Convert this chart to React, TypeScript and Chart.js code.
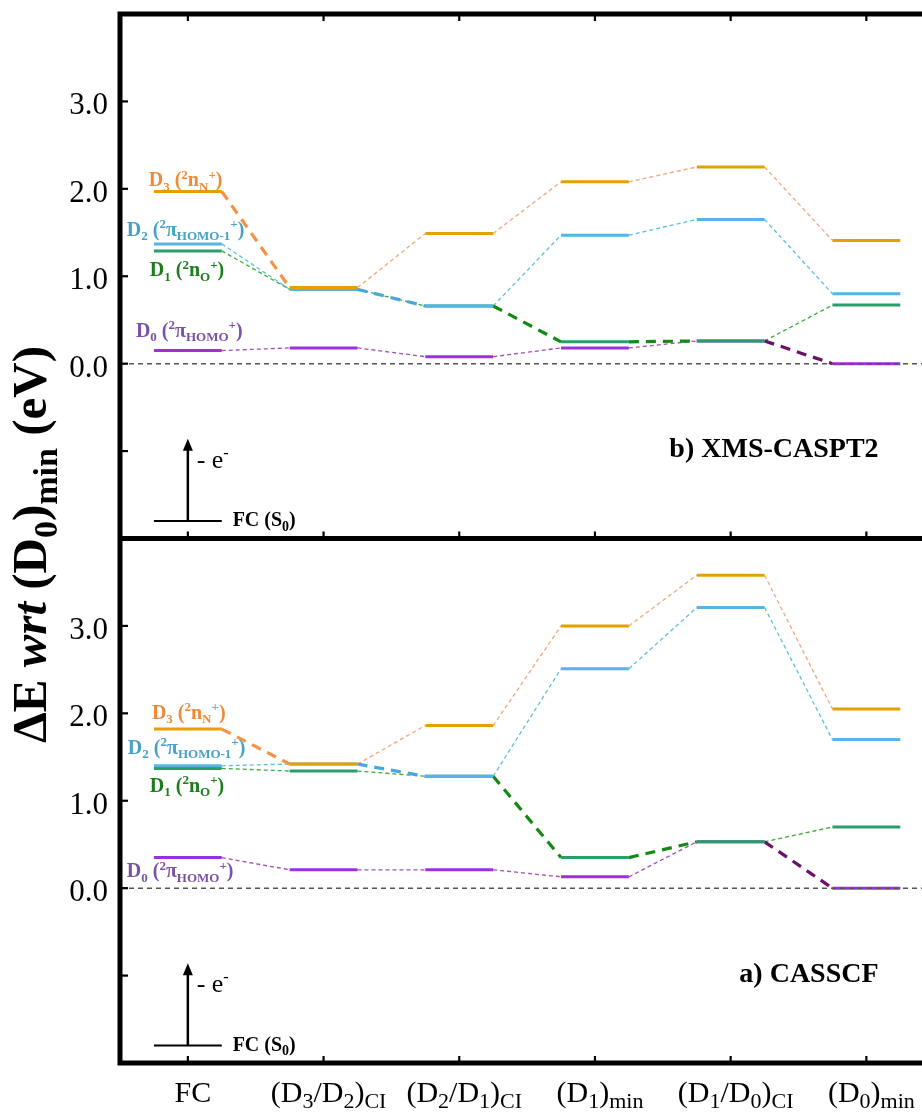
import React, { useEffect, useRef } from 'react';
import { Chart, registerables } from 'chart.js';

Chart.register(...registerables);

// ---------- data ----------
const categories = [
  'FC',
  '(D_{3}/D_{2})_{CI}',
  '(D_{2}/D_{1})_{CI}',
  '(D_{1})_{min}',
  '(D_{1}/D_{0})_{CI}',
  '(D_{0})_{min}',
];
const yTickValues = [-1, 0, 1, 2, 3];
const yTickLabels = ['', '0.0', '1.0', '2.0', '3.0'];

const stateKeys = ['D3', 'D2', 'D1', 'D0'];
const stateLabels = [
  'D_{3} (^{2}n_{N}^{+})',
  'D_{2} (^{2}π_{HOMO-1}^{+})',
  'D_{1} (^{2}n_{O}^{+})',
  'D_{0} (^{2}π_{HOMO}^{+})',
];

// panel b) XMS-CASPT2 (top), eV relative to (D0)min
const xmsD3 = [1.97, 0.87, 1.49, 2.08, 2.25, 1.41];
const xmsD2 = [1.37, 0.85, 0.66, 1.47, 1.65, 0.8];
const xmsD1 = [1.29, 0.85, 0.66, 0.25, 0.26, 0.67];
const xmsD0 = [0.15, 0.18, 0.08, 0.18, 0.26, 0.0];

// panel a) CASSCF (bottom)
const casD3 = [1.82, 1.42, 1.86, 3.0, 3.58, 2.05];
const casD2 = [1.4, 1.42, 1.28, 2.51, 3.21, 1.7];
const casD1 = [1.37, 1.34, 1.28, 0.35, 0.53, 0.7];
const casD0 = [0.35, 0.21, 0.21, 0.13, 0.53, 0.0];

// links (category i -> i+1) that follow the diabatic state (thick dashes)
const thickD3 = [true, false, false, false, false];
const thickD2 = [false, true, false, false, false];
const thickD1 = [false, false, true, true, false];
const thickD0 = [false, false, false, false, true];

const panelTitles = ['b) XMS-CASPT2', 'a) CASSCF'];
const yTitle = 'ΔE ~{wrt} (D_{0})_{min} (eV)';

// ---------- styles ----------
const levelColor = ['#E69F00', '#56B4E9', '#2A9D6A', '#9B30E0'];
const thinColor = ['#F5A47E', '#5BBFDD', '#3AAA3A', '#A04FB4'];
const thickColor = ['#F7914A', '#48A8DA', '#148A14', '#6A106A'];
const labelColor = ['#F08A38', '#46A2C8', '#1C7D1C', '#7A52A6'];

// label anchors (x in category units, y = baseline in eV)
const labelPosTop = [
  [-0.288, 2.03],
  [-0.45, 1.46],
  [-0.28, 1.0],
  [-0.383, 0.31],
];
const labelPosBot = [
  [-0.265, 1.94],
  [-0.442, 1.54],
  [-0.28, 1.1],
  [-0.45, 0.126],
];

type Run = { t: string; m: 'n' | 'sub' | 'sup'; it: boolean };
function parseRich(s: string): Run[] {
  const runs: Run[] = [];
  let i = 0;
  let buf = '';
  const flush = () => {
    if (buf) {
      runs.push({ t: buf, m: 'n', it: false });
      buf = '';
    }
  };
  while (i < s.length) {
    const c = s[i];
    if ((c === '_' || c === '^' || c === '~') && s[i + 1] === '{') {
      flush();
      const end = s.indexOf('}', i + 2);
      const inner = s.slice(i + 2, end);
      runs.push({ t: inner, m: c === '_' ? 'sub' : c === '^' ? 'sup' : 'n', it: c === '~' });
      i = end + 1;
    } else {
      buf += c;
      i++;
    }
  }
  flush();
  return runs;
}

function drawRich(
  ctx: CanvasRenderingContext2D,
  s: string,
  x: number,
  y: number,
  o: { size: number; weight?: string; color: string; align?: string; subScale?: number; subShift?: number; supShift?: number }
) {
  const runs = parseRich(s);
  const w = o.weight || 'normal';
  const sc = o.subScale ?? 0.68;
  const fontFor = (r: Run) =>
    `${r.it ? 'italic ' : ''}${w} ${r.m === 'n' ? o.size : Math.round(o.size * sc)}px "Liberation Serif", "Times New Roman", serif`;
  let total = 0;
  const widths = runs.map((r) => {
    ctx.font = fontFor(r);
    const ww = ctx.measureText(r.t).width;
    total += ww;
    return ww;
  });
  let cx = o.align === 'center' ? x - total / 2 : o.align === 'right' ? x - total : x;
  ctx.fillStyle = o.color;
  ctx.textBaseline = 'alphabetic';
  ctx.textAlign = 'left';
  runs.forEach((r, k) => {
    ctx.font = fontFor(r);
    const dy = r.m === 'sub' ? o.size * (o.subShift ?? 0.22) : r.m === 'sup' ? -o.size * (o.supShift ?? 0.38) : 0;
    ctx.fillText(r.t, cx, y + dy);
    cx += widths[k];
  });
}

function levelPoints(vals: number[]) {
  const pts: any[] = [];
  vals.forEach((v, i) => {
    pts.push({ x: i - 0.25, y: v }, { x: i + 0.25, y: v }, { x: i + 0.5, y: null });
  });
  return pts;
}
function linkPoints(vals: number[], thick: boolean[], want: boolean) {
  const pts: any[] = [];
  for (let i = 0; i < vals.length - 1; i++) {
    if (thick[i] !== want) continue;
    pts.push({ x: i + 0.25, y: vals[i] }, { x: i + 0.75, y: vals[i + 1] }, { x: i + 0.8, y: null });
  }
  return pts;
}

function buildDatasets(series: number[][], thick: boolean[][], axis: string) {
  const ds: any[] = [];
  series.forEach((vals, s) => {
    ds.push({
      label: stateKeys[s] + ' level',
      data: levelPoints(vals),
      yAxisID: axis,
      borderColor: levelColor[s],
      borderWidth: 3,
      borderCapStyle: 'butt',
      pointRadius: 0,
      order: 1 + s,
    });
    ds.push({
      label: stateKeys[s] + ' thick link',
      data: linkPoints(vals, thick[s], true),
      yAxisID: axis,
      borderColor: thickColor[s],
      borderWidth: 3.2,
      borderDash: [10, 7],
      borderCapStyle: 'butt',
      pointRadius: 0,
      order: 10 + s,
    });
    ds.push({
      label: stateKeys[s] + ' thin link',
      data: linkPoints(vals, thick[s], false),
      yAxisID: axis,
      borderColor: thinColor[s],
      borderWidth: 1.3,
      borderDash: [4, 3],
      borderCapStyle: 'butt',
      pointRadius: 0,
      order: 20 + s,
    });
  });
  return ds;
}

const decor = {
  id: 'decor',
  afterDatasetsDraw(chart: any) {
    const ctx: CanvasRenderingContext2D = chart.ctx;
    const xs = chart.scales.x;
    const area = chart.chartArea;
    const panels = [
      { s: chart.scales.yTop, title: panelTitles[0], lab: labelPosTop },
      { s: chart.scales.yBot, title: panelTitles[1], lab: labelPosBot },
    ];
    ctx.save();
    // zero reference lines
    for (const p of panels) {
      const y = p.s.getPixelForValue(0);
      ctx.setLineDash([5, 4]);
      ctx.strokeStyle = '#555';
      ctx.lineWidth = 1.5;
      ctx.beginPath();
      ctx.moveTo(area.left, y);
      ctx.lineTo(area.right, y);
      ctx.stroke();
    }
    ctx.setLineDash([]);

    for (const p of panels) {
      const ys = p.s;
      // state labels
      stateLabels.forEach((t, k) => {
        drawRich(ctx, t, xs.getPixelForValue(p.lab[k][0]), ys.getPixelForValue(p.lab[k][1]), {
          size: 20,
          weight: 'bold',
          color: labelColor[k],
          subScale: 0.66,
        });
      });
      // ionization arrow
      const x0 = xs.getPixelForValue(0);
      const yb = ys.getPixelForValue(-1.8);
      const yt = ys.getPixelForValue(-0.86);
      ctx.strokeStyle = '#000';
      ctx.fillStyle = '#000';
      ctx.lineWidth = 2;
      ctx.beginPath();
      ctx.moveTo(xs.getPixelForValue(-0.25), yb);
      ctx.lineTo(xs.getPixelForValue(0.25), yb);
      ctx.stroke();
      ctx.lineWidth = 2.5;
      ctx.beginPath();
      ctx.moveTo(x0, yb);
      ctx.lineTo(x0, yt + 8);
      ctx.stroke();
      ctx.beginPath();
      ctx.moveTo(x0, yt);
      ctx.lineTo(x0 - 5, yt + 12);
      ctx.lineTo(x0 + 5, yt + 12);
      ctx.closePath();
      ctx.fill();
      drawRich(ctx, '- e^{-}', xs.getPixelForValue(0.065), ys.getPixelForValue(-1.1) + 8, {
        size: 26,
        color: '#000',
        subScale: 0.62,
        supShift: 0.38,
      });
      drawRich(ctx, 'FC (S_{0})', xs.getPixelForValue(0.33), ys.getPixelForValue(-1.78) + 7, {
        size: 20,
        weight: 'bold',
        color: '#000',
      });
      // panel title
      drawRich(ctx, p.title, xs.getPixelForValue(5.09), ys.getPixelForValue(-1.07), {
        size: 28,
        weight: 'bold',
        color: '#000',
        align: 'right',
      });
      // y ticks (inward) and labels
      yTickValues.forEach((v, k) => {
        const y = ys.getPixelForValue(v);
        ctx.lineWidth = 2.2;
        ctx.strokeStyle = '#000';
        ctx.beginPath();
        ctx.moveTo(area.left, y);
        ctx.lineTo(area.left + 8, y);
        ctx.stroke();
        if (yTickLabels[k]) {
          ctx.font = '31px "Liberation Serif", "Times New Roman", serif';
          ctx.fillStyle = '#000';
          ctx.textAlign = 'right';
          ctx.textBaseline = 'alphabetic';
          ctx.fillText(yTickLabels[k], 108, y + 13);
        }
      });
    }

    // frame
    const yTopEdge = chart.scales.yTop.top;
    const yMid = chart.scales.yTop.bottom;
    const yBotEdge = chart.scales.yBot.bottom;
    ctx.strokeStyle = '#000';
    ctx.lineWidth = 5;
    ctx.beginPath();
    ctx.moveTo(area.left, yTopEdge - 2.5);
    ctx.lineTo(area.left, yBotEdge + 2.5);
    ctx.moveTo(area.left - 2.5, yTopEdge);
    ctx.lineTo(area.right, yTopEdge);
    ctx.moveTo(area.left - 2.5, yMid);
    ctx.lineTo(area.right, yMid);
    ctx.moveTo(area.left - 2.5, yBotEdge);
    ctx.lineTo(area.right, yBotEdge);
    ctx.stroke();

    // x ticks
    ctx.lineWidth = 2.2;
    categories.forEach((c, i) => {
      const x = xs.getPixelForValue(i);
      ctx.beginPath();
      ctx.moveTo(x, yTopEdge);
      ctx.lineTo(x, yTopEdge + 7);
      ctx.moveTo(x, yMid);
      ctx.lineTo(x, yMid - 7);
      ctx.moveTo(x, yBotEdge);
      ctx.lineTo(x, yBotEdge - 7);
      ctx.stroke();
      drawRich(ctx, c, x + 5, yBotEdge + 39, {
        size: 30,
        color: '#000',
        align: 'center',
        subScale: 0.72,
        subShift: 0.2,
      });
    });

    // y axis title
    ctx.save();
    ctx.translate(46, (yTopEdge + yBotEdge) / 2 + 6);
    ctx.rotate(-Math.PI / 2);
    drawRich(ctx, yTitle, 0, 0, { size: 49, weight: 'bold', color: '#000', align: 'center', subScale: 0.7 });
    ctx.restore();

    ctx.restore();
  },
};

export default function App() {
  const ref = useRef<HTMLCanvasElement>(null);
  useEffect(() => {
    const datasets = [
      ...buildDatasets([xmsD3, xmsD2, xmsD1, xmsD0], [thickD3, thickD2, thickD1, thickD0], 'yTop'),
      ...buildDatasets([casD3, casD2, casD1, casD0], [thickD3, thickD2, thickD1, thickD0], 'yBot'),
    ];
    const axisCommon = {
      type: 'linear',
      min: -2,
      max: 4,
      position: 'left',
      stack: 'panels',
      stackWeight: 1,
      grid: { display: false },
      ticks: { display: false },
      border: { display: false },
      afterFit: (s: any) => {
        s.width = 120;
      },
    };
    const chart = new Chart(ref.current as HTMLCanvasElement, {
      type: 'line',
      data: { datasets },
      options: {
        responsive: false,
        animation: false,
        layout: { padding: { top: 14, right: 0, bottom: 0, left: 0 } },
        plugins: { legend: { display: false }, tooltip: { enabled: false } },
        scales: {
          x: {
            type: 'linear',
            min: -0.5,
            max: 5.41,
            position: 'bottom',
            grid: { display: false },
            ticks: { display: false },
            border: { display: false },
            afterFit: (s: any) => {
              s.height = 52;
            },
          },
          yBot: { ...axisCommon },
          yTop: { ...axisCommon },
        } as any,
      },
      plugins: [decor],
    } as any);
    return () => chart.destroy();
  }, []);
  return (
    <div style={{ position: 'fixed', left: 0, top: 0, width: 922, height: 1115, background: '#fff' }}>
      <canvas ref={ref} width={922} height={1115} style={{ display: 'block' }} />
    </div>
  );
}
